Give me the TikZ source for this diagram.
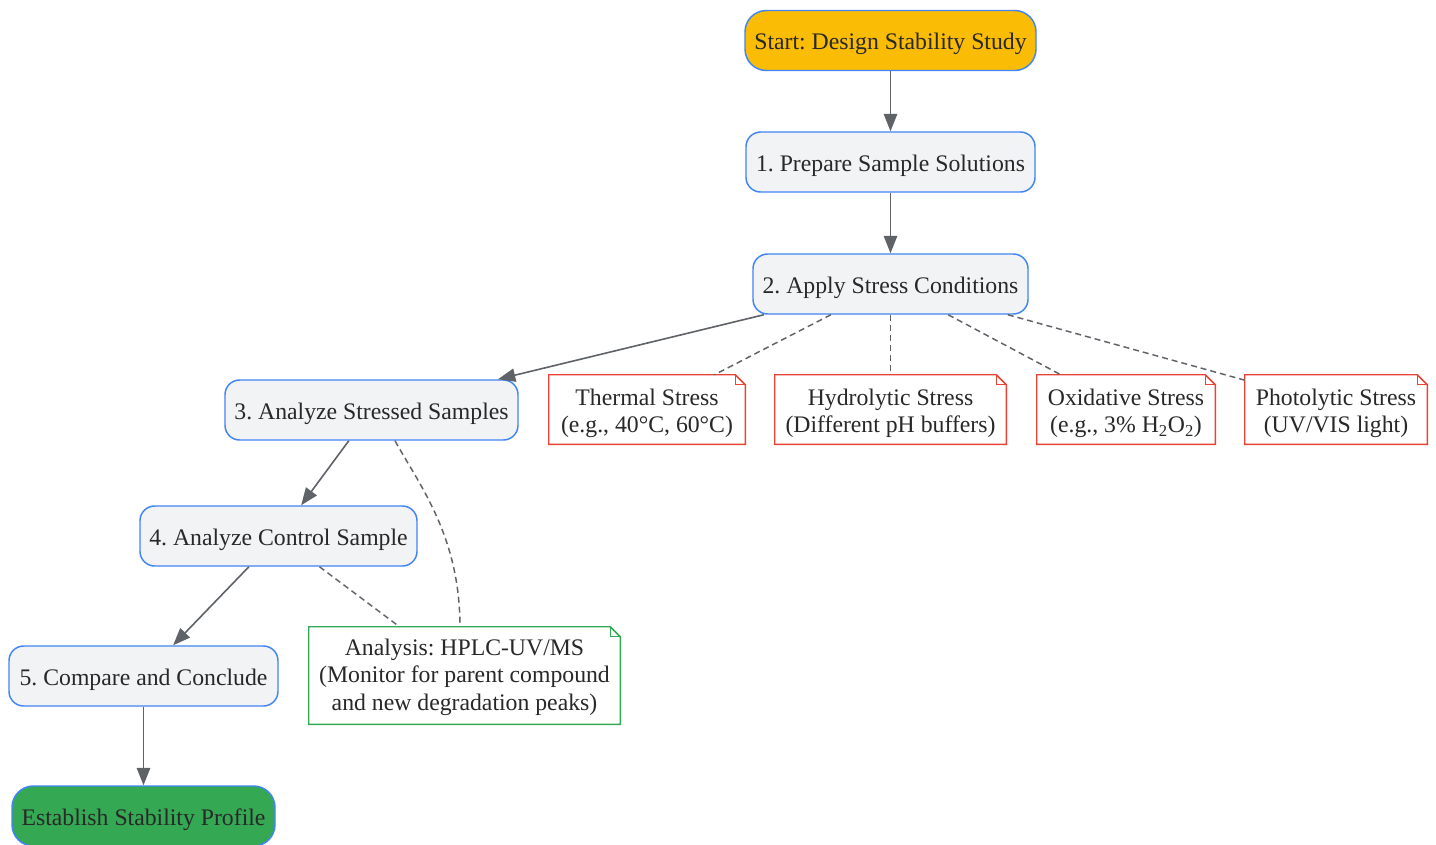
\documentclass[tikz,border=0pt]{standalone}
\usepackage{fontspec}
\setmainfont{Liberation Serif}
\usepackage{tikz}
\usetikzlibrary{arrows.meta,positioning,calc}
\frenchspacing
\newcommand{\topstrut}[1]{\rule{0pt}{#1}}
\tikzset{
  >={Triangle[length=13pt,width=10pt]},
  every node/.append style={font=\fontsize{17.8}{20.8}\selectfont},
}
\tikzset{
  box/.style={draw=stepblue, line width=1.1pt, rounded corners=11pt, fill=boxgray, text=textgray, align=center, inner sep=0pt, minimum height=45pt, text height=14.2pt, text depth=0pt},
  term/.style={box, rounded corners=16pt},
  note/.style={fill=white, text=textgray, align=center, inner sep=0pt, minimum height=51.75pt},
  arrow/.style={->, draw=linegray, line width=1.2pt},
  link/.style={draw=linegray, line width=1.1pt, dash pattern=on 4.5pt off 3pt}
}

\begin{document}
\begin{tikzpicture}[x=0.75pt, y=-0.75pt]
% Color definitions
\definecolor{stepblue}{RGB}{66,133,244}
\definecolor{boxgray}{RGB}{241,243,244}
\definecolor{textgray}{RGB}{40,40,40}
\definecolor{linegray}{RGB}{95,99,104}
\definecolor{startamber}{RGB}{251,188,5}
\definecolor{endgreen}{RGB}{52,168,83}
\definecolor{stressred}{RGB}{234,67,53}

\path[use as bounding box, fill=white] (0,0) rectangle (1436,844);

% Main steps
\node[term, fill=startamber, minimum width=218.25pt] (start) at (890.5,40.5) {Start: Design Stability Study};
\node[box, minimum width=216.75pt] (prep) at (890.5,162) {1. Prepare Sample Solutions};
\node[box, minimum width=206.25pt] (apply) at (890.5,284) {2. Apply Stress Conditions};
\node[box, minimum width=219.75pt] (stressed) at (371.5,410) {3. Analyze Stressed Samples};
\node[box, minimum width=207.75pt] (control) at (278.5,536) {4. Analyze Control Sample};
\node[box, minimum width=201.75pt] (compare) at (143.5,676) {5. Compare and Conclude};
\node[term, fill=endgreen, minimum width=197.25pt] (profile) at (143.5,816) {Establish Stability Profile};

% Notes
\node[note, minimum width=147pt] (thermal) at (647,409.5) {\topstrut{17.9pt}Thermal Stress\\(e.g., 40°C, 60°C)};
\node[note, minimum width=173.25pt] (hydro) at (890.5,409.5) {\topstrut{17.9pt}Hydrolytic Stress\\(Different pH buffers)};
\node[note, minimum width=133.5pt] (oxid) at (1126,409.5) {\topstrut{17.9pt}Oxidative Stress\\(e.g., 3\% H\textsubscript{2}O\textsubscript{2})};
\node[note, minimum width=136.5pt] (photo) at (1336,409.5) {\topstrut{17.9pt}Photolytic Stress\\(UV/VIS light)};
\node[note, minimum width=233.25pt, minimum height=72.75pt] (analysis) at (464.5,675.5) {\topstrut{14.7pt}Analysis: HPLC-UV/MS\\(Monitor for parent compound\\and new degradation peaks)};

% Folded corners
\foreach \n/\c in {thermal/stressred, hydro/stressred, oxid/stressred, photo/stressred, analysis/endgreen} {
  \draw[\c, line width=1.1pt] (\n.south west) -- (\n.south east) -- ([yshift=-7.5pt]\n.north east)
    -- ([xshift=-7.5pt]\n.north east) -- (\n.north west) -- cycle;
  \draw[\c, line width=1.1pt] ([xshift=-7.5pt]\n.north east) |- ([yshift=-7.5pt]\n.north east);
}

% Flow
\draw[arrow] (start) -- (prep);
\draw[arrow] (prep) -- (apply);
\draw[arrow] (apply) -- (stressed);
\draw[arrow] (stressed) -- (control);
\draw[arrow] (control) -- (compare);
\draw[arrow] (compare) -- (profile);

% Links to notes
\draw[link] (apply) -- (thermal);
\draw[link] (apply) -- (hydro);
\draw[link] (apply) -- (oxid);
\draw[link] ([xshift=88pt]apply.south) -- ([yshift=22pt]photo.west);
\draw[link] (control) -- (analysis);
\draw[link] ([xshift=17.6pt]stressed.south) .. controls +(25,45) and +(0,-90) .. ([xshift=-3.4pt]analysis.north);
\end{tikzpicture}
\end{document}
